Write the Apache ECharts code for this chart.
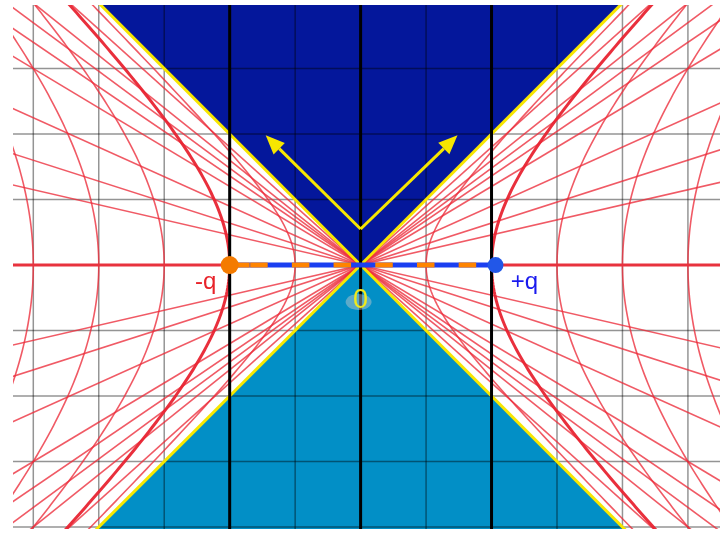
<!DOCTYPE html>
<html><head><meta charset="utf-8">
<script src="https://cdn.jsdelivr.net/npm/echarts@6/dist/echarts.min.js"></script>
<style>html,body{margin:0;padding:0;background:#fff}#c{width:727px;height:533px}</style>
</head><body><div id="c"></div>
<script>
// ---- data (diagram units) ----
const xRange = [-5.31, 5.49];
const yRange = [-4.03, 3.97];
const gridXs = [-5, -4, -3, -2, -1, 0, 1, 2, 3, 4, 5];
const gridYs = [-4, -3, -2, -1, 0, 1, 2, 3, 4];
const boldXs = [-2, 0, 2];
const hyperbolaA = [1, 2, 3, 4, 5];
const boldHyperbolaA = [2];
const fanSlopes = [0.23, 0.32, 0.45, 0.6, 0.68, 0.74, 0.8, 0.9];
const chargeNames = ['-q', '+q'];
const chargeX = [-2, 2];
const originLabel = '0';
const arrowStart = [0, 0.55];
const arrowEnds = [[-1.45, 1.98], [1.48, 1.98]];

// ---- styles ----
const NAVY = '#04179b', LIGHTBLUE = '#028fc6', YELLOW = '#f7e600', RED = 'rgba(236,44,58,0.78)';
const ORANGE = '#ff8400', DASHBLUE = '#1b3ff0';

const chart = echarts.init(document.getElementById('c'), null, {renderer: 'canvas'});

function line(api, p1, p2, style) {
  const a = api.coord(p1), b = api.coord(p2);
  return {type: 'line', shape: {x1: a[0], y1: a[1], x2: b[0], y2: b[1]}, style: style};
}

const series = [];
// cone regions
series.push({
  type: 'custom', clip: true, silent: true, data: [[0, 1], [0, -1]], z: 1,
  renderItem: (p, api) => {
    const s = api.value(1);
    const pts = [api.coord([0, 0]), api.coord([-6, 6 * s]), api.coord([6, 6 * s])];
    return {type: 'polygon', shape: {points: pts}, style: {fill: s > 0 ? NAVY : LIGHTBLUE}};
  }
});
// grid lines (kind 0 = vertical, 1 = horizontal)
series.push({
  type: 'custom', clip: true, silent: true, z: 2,
  data: gridXs.map(v => [v, 0, 0]).concat(gridYs.map(v => [0, v, 1])),
  dimensions: ['x', 'y', 'kind'],
  encode: {x: 0, y: 1},
  renderItem: (p, api) => {
    const st = {stroke: 'rgba(0,0,0,0.42)', lineWidth: 1.5};
    if (api.value(2) === 1) return line(api, [-7, api.value(1)], [7, api.value(1)], st);
    return line(api, [api.value(0), -5], [api.value(0), 5], st);
  }
});
// fan lines through origin
series.push({
  type: 'custom', clip: true, silent: true, z: 3,
  data: fanSlopes.flatMap(m => [[m, 1], [m, -1]]),
  renderItem: (p, api) => {
    const m = api.value(0) * api.value(1);
    return line(api, [-7, -7 * m], [7, 7 * m], {stroke: RED, lineWidth: 1.6});
  }
});
// hyperbolas
series.push({
  type: 'custom', clip: true, silent: true, z: 3,
  data: hyperbolaA.flatMap(a => [[a, 1], [a, -1]]),
  renderItem: (p, api) => {
    const a = api.value(0), s = api.value(1);
    const bold = boldHyperbolaA.indexOf(a) >= 0;
    const pts = [];
    for (let i = -100; i <= 100; i++) {
      const t = i * 0.05;
      pts.push(api.coord([s * Math.sqrt(a * a + t * t), t]));
    }
    return {type: 'polyline', shape: {points: pts},
      style: {stroke: bold ? 'rgba(232,36,50,0.95)' : RED, lineWidth: bold ? 3 : 1.6, fill: null}};
  }
});
// red horizontal axis
series.push({
  type: 'custom', clip: true, silent: true, z: 4, data: [[0, 0]],
  renderItem: (p, api) => line(api, [-7, 0], [7, 0], {stroke: '#e8323e', lineWidth: 3})
});
// yellow cone edges
series.push({
  type: 'custom', clip: true, silent: true, z: 5, data: [[-1, 1], [1, 1], [-1, -1], [1, -1]],
  renderItem: (p, api) => line(api, [0, 0], [6 * api.value(0), 6 * api.value(1)], {stroke: YELLOW, lineWidth: 3})
});
// bold black vertical lines
series.push({
  type: 'custom', clip: true, silent: true, z: 6, data: boldXs.map(v => [v, 0]),
  renderItem: (p, api) => line(api, [api.value(0), -5], [api.value(0), 5], {stroke: '#000', lineWidth: 3})
});
// arrows
series.push({
  type: 'custom', clip: true, silent: true, z: 7, data: arrowEnds,
  renderItem: (p, api) => {
    const a = api.coord(arrowStart), b = api.coord([api.value(0), api.value(1)]);
    const dx = b[0] - a[0], dy = b[1] - a[1], L = Math.hypot(dx, dy);
    const ux = dx / L, uy = dy / L, hl = 19, hw = 8;
    const bx = b[0] - ux * hl, by = b[1] - uy * hl;
    return {type: 'group', children: [
      {type: 'line', shape: {x1: a[0], y1: a[1], x2: bx, y2: by}, style: {stroke: YELLOW, lineWidth: 3}},
      {type: 'polygon', shape: {points: [b, [bx - uy * hw, by + ux * hw], [bx + uy * hw, by - ux * hw]]}, style: {fill: YELLOW}}
    ]};
  }
});
// dashed segment between charges
series.push({
  type: 'custom', clip: true, silent: true, z: 8, data: [[chargeX[0], chargeX[1]]],
  renderItem: (p, api) => {
    const a = api.coord([api.value(0), 0]), b = api.coord([api.value(1), 0]);
    return {type: 'group', children: [
      {type: 'line', shape: {x1: a[0], y1: a[1], x2: b[0], y2: b[1]}, style: {stroke: DASHBLUE, lineWidth: 5}},
      {type: 'line', shape: {x1: a[0], y1: a[1], x2: b[0], y2: b[1]}, style: {stroke: ORANGE, lineWidth: 5, lineDash: [17.5, 24.2], lineDashOffset: 21.2}},
      {type: 'line', shape: {x1: a[0], y1: a[1], x2: a[0] + 20, y2: a[1]}, style: {stroke: ORANGE, lineWidth: 5}}
    ]};
  }
});
// charges, labels
series.push({
  type: 'custom', clip: false, silent: true, z: 9,
  data: chargeX.map((x, i) => [x, 0, i]),
  renderItem: (p, api) => {
    const i = api.value(2);
    const c = api.coord([api.value(0), 0]);
    const neg = i === 0;
    return {type: 'group', children: [
      {type: 'circle', shape: {cx: c[0] + (neg ? 0 : 4), cy: c[1], r: neg ? 9 : 8}, style: {fill: neg ? '#f47b00' : '#2257e8'}},
      {type: 'text', style: {text: chargeNames[i], x: neg ? c[0] - 24 : c[0] + 33, y: c[1] + 17,
        fill: neg ? '#e8232a' : '#1a1aee', font: '24px "Liberation Sans", Arial, sans-serif', align: 'center', verticalAlign: 'middle'}}
    ]};
  }
});
// origin label
series.push({
  type: 'custom', clip: false, silent: true, z: 9, data: [[0, 0]],
  renderItem: (p, api) => {
    const c = api.coord([0, 0]);
    return {type: 'group', children: [
      {type: 'ellipse', shape: {cx: c[0] - 2, cy: c[1] + 37, rx: 13, ry: 8}, style: {fill: 'rgba(205,205,205,0.45)'}},
      {type: 'text', style: {text: originLabel, x: c[0], y: c[1] + 36, fill: '#f2ea1a',
        font: '27px "Liberation Sans", Arial, sans-serif', align: 'center', verticalAlign: 'middle'}}
    ]};
  }
});

chart.setOption({
  animation: false,
  backgroundColor: '#fff',
  grid: {left: 13, right: 7, top: 5, bottom: 4},
  xAxis: {type: 'value', min: xRange[0], max: xRange[1], show: false},
  yAxis: {type: 'value', min: yRange[0], max: yRange[1], show: false},
  series: series
});
</script>
</body></html>
